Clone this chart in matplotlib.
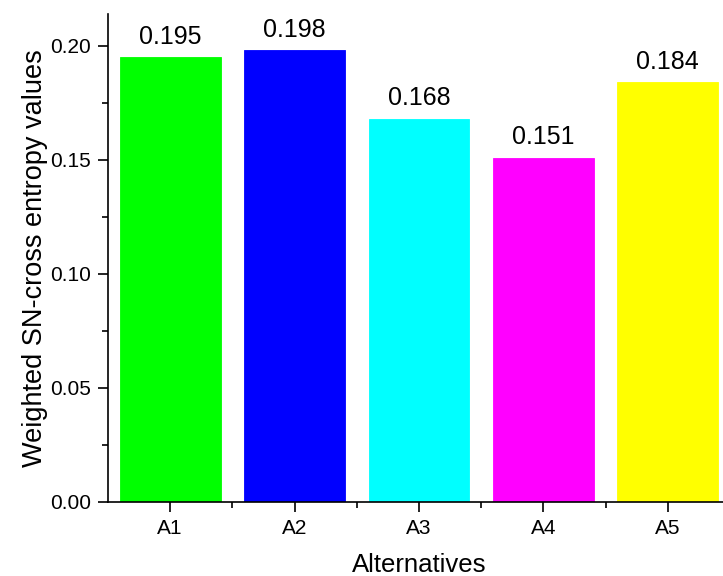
import matplotlib
matplotlib.use("Agg")
import matplotlib.pyplot as plt
from matplotlib.ticker import MultipleLocator, FixedLocator

# data
alternatives = ["A1", "A2", "A3", "A4", "A5"]
entropy_values = [0.195, 0.198, 0.168, 0.151, 0.184]
bar_colors = ["#00ff00", "#0000ff", "#00ffff", "#ff00ff", "#ffff00"]

plt.rcParams["font.family"] = ["Liberation Sans", "DejaVu Sans"]

fig = plt.figure(figsize=(7.23, 5.76), dpi=100)
# axes run slightly past the right edge, as in the reference
ax = fig.add_axes([108 / 723, (576 - 501.7) / 576, 622 / 723, 487.7 / 576])

positions = list(range(1, len(alternatives) + 1))
bars = ax.bar(positions, entropy_values, width=0.81, color=bar_colors,
              edgecolor=bar_colors, linewidth=0.6, zorder=2)

for pos, val in zip(positions, entropy_values):
    ax.annotate(f"{val:.3f}", (pos, val), xytext=(0, 6), textcoords="offset points",
                ha="center", va="bottom", fontsize=18)

ax.set_xlim(0.5, 5.5)
ax.set_ylim(0, 0.214)
ax.set_xticks(positions)
ax.set_xticklabels(alternatives)
ax.xaxis.set_minor_locator(FixedLocator([1.5, 2.5, 3.5, 4.5]))
ax.yaxis.set_major_locator(MultipleLocator(0.05))
ax.yaxis.set_minor_locator(MultipleLocator(0.025))
ax.yaxis.set_major_formatter(matplotlib.ticker.FormatStrFormatter("%.2f"))

for side in ("top", "right"):
    ax.spines[side].set_visible(False)
for side in ("left", "bottom"):
    ax.spines[side].set_linewidth(1.2)

ax.tick_params(which="major", direction="out", length=7.5, width=1.2, labelsize=15, pad=5)
ax.tick_params(which="minor", direction="out", length=4.5, width=1.2)

ax.set_xlabel("Alternatives", fontsize=18.5, labelpad=11)
ax.set_ylabel("Weighted SN-cross entropy values", fontsize=19.5, labelpad=1.5)

fig.savefig("out.png", dpi=100)
